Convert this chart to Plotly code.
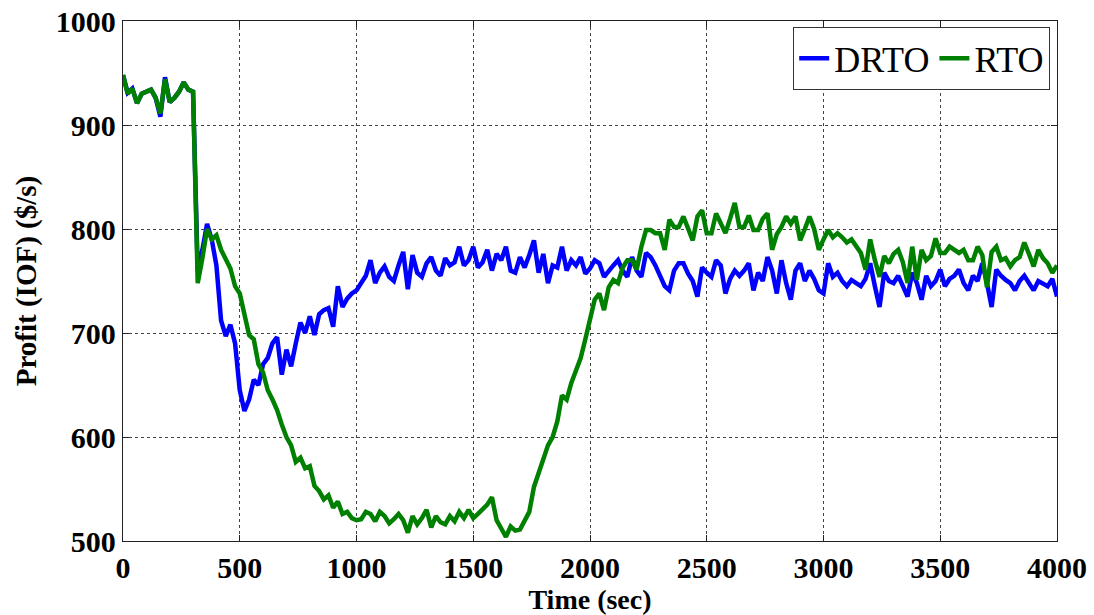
import plotly.graph_objects as go

# Sample times (s), one sample every 20 s
time_s = list(range(0, 4001, 20))

# Profit under dynamic real-time optimisation
drto = [
    948, 931, 935, 921, 930, 932, 934, 926, 908, 946,
    922, 926, 932, 941, 934, 932, 760, 780, 805, 790,
    765, 712, 697, 708, 690, 645, 625, 636, 655, 650,
    670, 676, 690, 696, 660, 684, 668, 690, 710, 700,
    716, 698, 718, 722, 724, 706, 745, 725, 733, 738,
    741, 748, 755, 770, 748, 758, 764, 754, 750, 765,
    778, 742, 775, 758, 754, 767, 773, 760, 755, 772,
    765, 768, 783, 765, 770, 783, 763, 768, 780, 760,
    776, 770, 783, 760, 758, 773, 763, 775, 789, 758,
    776, 748, 765, 763, 783, 760, 770, 765, 773, 757,
    762, 770, 767, 754, 760, 765, 770, 760, 754, 773,
    760, 754, 777, 773, 765, 754, 745, 741, 760, 767,
    767, 757, 750, 735, 763, 758, 754, 770, 765, 738,
    752, 760, 755, 760, 767, 741, 758, 750, 773, 760,
    738, 770, 748, 732, 760, 767, 750, 760, 752, 741,
    738, 767, 754, 758, 750, 745, 751, 748, 745, 752,
    767, 745, 725, 758, 750, 748, 755, 745, 735, 758,
    748, 732, 755, 745, 750, 761, 745, 752, 755, 761,
    748, 741, 755, 750, 767, 748, 725, 761, 755, 751,
    748, 741, 750, 755, 748, 741, 750, 748, 745, 752,
    735,
]

# Profit under steady-state real-time optimisation
rto = [
    948, 930, 935, 921, 930, 932, 934, 926, 911, 944,
    922, 926, 932, 941, 934, 932, 748, 772, 800, 790,
    794, 780, 770, 762, 745, 738, 718, 698, 694, 670,
    662, 645, 636, 626, 612, 600, 592, 576, 580, 570,
    572, 553, 548, 540, 544, 532, 538, 526, 528, 522,
    520, 521, 528, 526, 519, 528, 524, 517, 521, 526,
    520, 508, 524, 516, 522, 530, 513, 524, 518, 516,
    524, 519, 528, 522, 530, 522, 526, 530, 535, 542,
    520, 512, 504, 514, 510, 511, 520, 528, 552, 565,
    580, 592, 600, 615, 640, 636, 652, 664, 676, 694,
    712, 732, 738, 722, 744, 751, 748, 763, 770, 770,
    761, 783, 799, 799, 796, 796, 780, 809, 802, 802,
    812, 800, 789, 812, 818, 796, 796, 815, 805, 796,
    810, 825, 802, 802, 813, 799, 799, 810, 815, 780,
    795, 802, 812, 805, 812, 789, 800, 812, 800, 780,
    790, 799, 792, 796, 792, 787, 790, 784, 777, 761,
    790, 770, 754, 774, 767, 776, 780, 768, 748, 783,
    751, 780, 770, 774, 791, 777, 777, 783, 780, 777,
    780, 770, 770, 783, 775, 744, 778, 783, 770, 772,
    764, 770, 773, 787, 776, 764, 780, 772, 767, 758,
    765,
]

x_ticks = [0, 500, 1000, 1500, 2000, 2500, 3000, 3500, 4000]
y_ticks = [500, 600, 700, 800, 900, 1000]

serif = "Liberation Serif"

fig = go.Figure()
fig.add_trace(go.Scatter(x=time_s, y=drto, mode="lines", name="DRTO",
                         line=dict(color="#0000FF", width=4.5)))
fig.add_trace(go.Scatter(x=time_s, y=rto, mode="lines", name="RTO",
                         line=dict(color="#008000", width=4.5)))

axis_common = dict(
    showline=True, linecolor="#222", linewidth=1.3, mirror="ticks",
    ticks="inside", ticklen=6, tickcolor="#222",
    showgrid=True, gridcolor="#444", gridwidth=1, griddash="3px,3px",
    zeroline=False,
    tickfont=dict(family=serif, size=30, color="black", weight="bold"),
)

fig.update_xaxes(range=[0, 4000], tickvals=x_ticks,
                 title=dict(text="Time (sec)", standoff=0,
                            font=dict(family=serif, size=28, color="black", weight="bold")),
                 **axis_common)
fig.update_yaxes(range=[500, 1000], tickvals=y_ticks,
                 title=dict(text="Profit (IOF) ($/s)", standoff=10,
                            font=dict(family=serif, size=29, color="black", weight="bold")),
                 **axis_common)

fig.update_layout(
    width=1094, height=615,
    margin=dict(l=123, r=37, t=21, b=74, autoexpand=False),
    paper_bgcolor="white", plot_bgcolor="white",
    showlegend=True,
    legend=dict(
        orientation="h", x=0.9925, y=0.988, xanchor="right", yanchor="top",
        bgcolor="white", bordercolor="#333", borderwidth=1.2,
        font=dict(family=serif, size=36, color="black"),
        itemwidth=30, tracegroupgap=0,
    ),
)

fig.write_html("out.html")
